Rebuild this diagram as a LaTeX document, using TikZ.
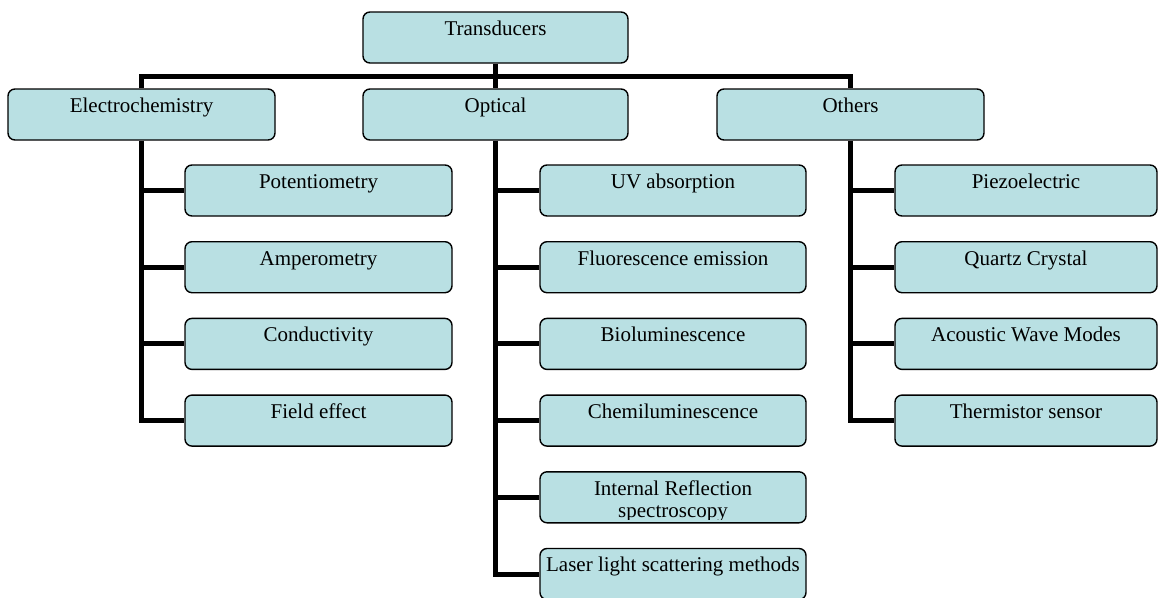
\documentclass[tikz,border=0pt]{standalone}
\usepackage{fontspec}
\setmainfont{Liberation Serif}
\definecolor{boxfill}{HTML}{B9E0E3}
\begin{document}
\begin{tikzpicture}[x=1pt,y=-1pt,
  box/.style={draw=black, line width=1.4pt, fill=boxfill, rounded corners=7pt,
    minimum height=51pt, inner sep=0pt, rectangle},
  lbl/.style={anchor=base, inner sep=0pt, font=\fontsize{21}{22}\selectfont},
  conn/.style={line width=5pt, black, line join=miter}]
\useasboundingbox (0,0) rectangle (1159,597);
% level 0 and 1
\node[box, minimum width=265pt] (T) at (495.5,37.5) {};
\node[box, minimum width=267pt] (E) at (141.5,114.5) {};
\node[box, minimum width=265pt] (O) at (495.5,114.5) {};
\node[box, minimum width=267pt] (H) at (850.5,114.5) {};
% electrochemistry children
\node[box, minimum width=267pt] (e1) at (318.5,190.5) {};
\node[box, minimum width=267pt] (e2) at (318.5,267.2) {};
\node[box, minimum width=267pt] (e3) at (318.5,343.9) {};
\node[box, minimum width=267pt] (e4) at (318.5,420.6) {};
% optical children
\node[box, minimum width=266pt] (o1) at (673,190.5) {};
\node[box, minimum width=266pt] (o2) at (673,267.2) {};
\node[box, minimum width=266pt] (o3) at (673,343.9) {};
\node[box, minimum width=266pt] (o4) at (673,420.6) {};
\node[box, minimum width=266pt] (o5) at (673,497.3) {};
\node[box, minimum width=266pt] (o6) at (673,574) {};
% others children
\node[box, minimum width=262pt] (h1) at (1026,190.5) {};
\node[box, minimum width=262pt] (h2) at (1026,267.2) {};
\node[box, minimum width=262pt] (h3) at (1026,343.9) {};
\node[box, minimum width=262pt] (h4) at (1026,420.6) {};
% connectors
\coordinate (bus) at (0,76.5);
\draw[conn] (T.south) -- (O.north);
\draw[conn] (E.north) -- (E.north |- bus) -- (H.north |- bus) -- (H.north);
\draw[conn] (E.south) -- (E.south |- e4.west) -- (e4.west);
\foreach \n in {e1,e2,e3} \draw[conn] (E.south |- \n.west) -- (\n.west);
\draw[conn] (O.south) -- (O.south |- o6.west) -- (o6.west);
\foreach \n in {o1,o2,o3,o4,o5} \draw[conn] (O.south |- \n.west) -- (\n.west);
\draw[conn] (H.south) -- (H.south |- h4.west) -- (h4.west);
\foreach \n in {h1,h2,h3} \draw[conn] (H.south |- \n.west) -- (\n.west);
% labels
\node[lbl] (tT) at ([yshift=-24pt]T.north) {Transducers};
\node[lbl] (tE) at ([yshift=-24pt]E.north) {Electrochemistry};
\node[lbl] (tO) at ([yshift=-24pt]O.north) {Optical};
\node[lbl] (tH) at ([yshift=-24pt]H.north) {Others};
\node[lbl] (te1) at ([yshift=-24pt]e1.north) {Potentiometry};
\node[lbl] (te2) at ([yshift=-24pt]e2.north) {Amperometry};
\node[lbl] (te3) at ([yshift=-24pt]e3.north) {Conductivity};
\node[lbl] (te4) at ([yshift=-24pt]e4.north) {Field effect};
\node[lbl] (to1) at ([yshift=-24pt]o1.north) {UV absorption};
\node[lbl] (to2) at ([yshift=-24pt]o2.north) {Fluorescence emission};
\node[lbl] (to3) at ([yshift=-24pt]o3.north) {Bioluminescence};
\node[lbl] (to4) at ([yshift=-24pt]o4.north) {Chemiluminescence};
\begin{scope}
\clip (o5.north west) rectangle ([yshift=4pt]o5.south east);
\node[lbl] (to5) at ([yshift=-24pt]o5.north) {Internal Reflection};
\node[lbl] (to5b) at ([yshift=-46pt]o5.north) {spectroscopy};
\end{scope}
\node[lbl] (to6) at ([yshift=-24pt]o6.north) {Laser light scattering methods};
\node[lbl] (th1) at ([yshift=-24pt]h1.north) {Piezoelectric};
\node[lbl] (th2) at ([yshift=-24pt]h2.north) {Quartz Crystal};
\node[lbl] (th3) at ([yshift=-24pt]h3.north) {Acoustic Wave Modes};
\node[lbl] (th4) at ([yshift=-24pt]h4.north) {Thermistor sensor};
\end{tikzpicture}
\end{document}
